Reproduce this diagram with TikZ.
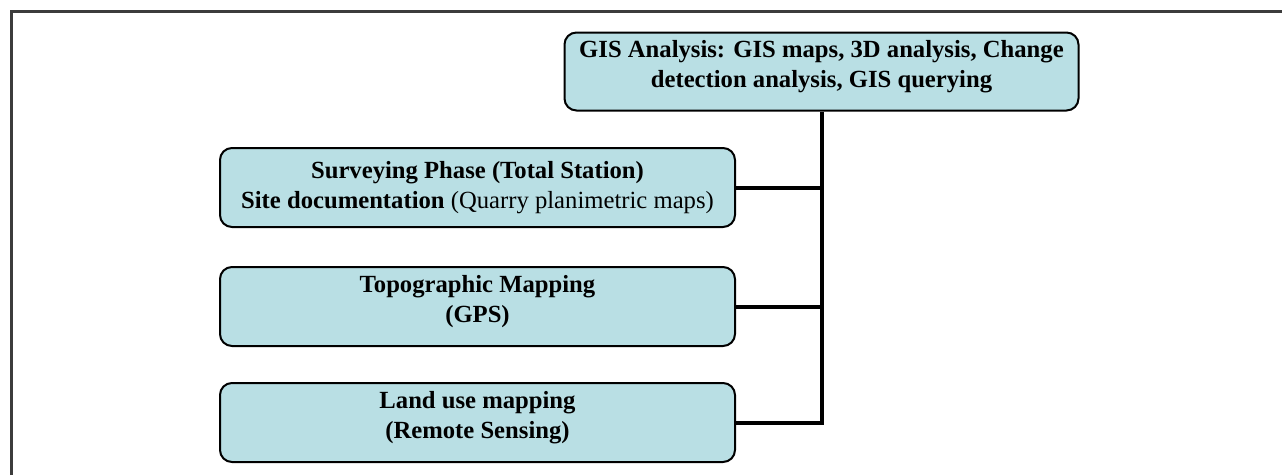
\documentclass[tikz,border=0pt]{standalone}
\usepackage{fontspec}
\setmainfont{Liberation Serif}
\definecolor{boxfill}{RGB}{185,223,228}
\definecolor{framegray}{RGB}{60,60,60}
\tikzset{
  stagebox/.style={draw=black, line width=1.5pt, fill=boxfill, rounded corners=9pt,
    align=center, inner sep=0pt, font=\fontsize{18.5pt}{22pt}\selectfont},
  raised/.style={text depth=11.5pt},
  link/.style={draw=black, line width=3pt, line join=miter}
}
\begin{document}
\begin{tikzpicture}[x=0.75pt,y=-0.75pt]
  \useasboundingbox (0,0) rectangle (1282,475);
  % outer frame (top and left edges only fall inside the page)
  \draw[framegray, line width=1.6pt] (11.5,475) -- (11.5,11.5) -- (1282,11.5);

  \node[stagebox, raised, minimum width=514*0.75pt, minimum height=78*0.75pt] (gis) at (821.5,71.5)
    {\textbf{GIS Analysis: GIS maps, 3D analysis, Change}\\\textbf{detection analysis, GIS querying}};
  \node[stagebox, minimum width=515*0.75pt, minimum height=79*0.75pt] (survey) at (477.5,187.5)
    {\textbf{Surveying Phase (Total Station)}\\\textbf{Site documentation} (Quarry planimetric maps)};
  \node[stagebox, raised, minimum width=515*0.75pt, minimum height=79*0.75pt] (topo) at (477.5,306.5)
    {\textbf{Topographic Mapping}\\\textbf{(GPS)}};
  \node[stagebox, raised, minimum width=515*0.75pt, minimum height=79*0.75pt] (land) at (477.5,422.5)
    {\textbf{Land use mapping}\\\textbf{(Remote Sensing)}};

  % trunk from the GIS box with a branch to every input stage
  \draw[link] (gis.south) -- (gis.south |- land.east) -- (land.east);
  \draw[link] (survey.east) -- (survey.east -| gis.south);
  \draw[link] (topo.east) -- (topo.east -| gis.south);
\end{tikzpicture}
\end{document}
